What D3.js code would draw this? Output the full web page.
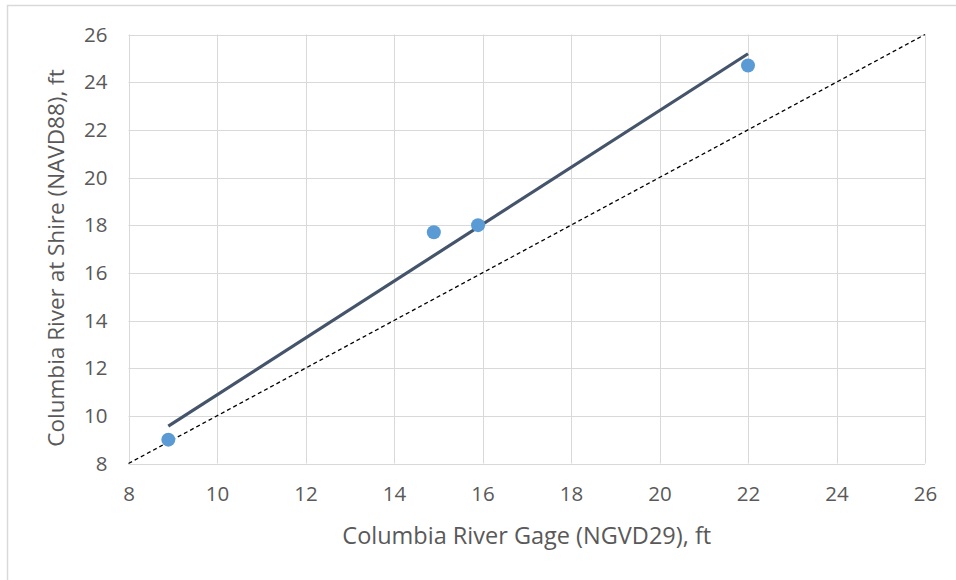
<!DOCTYPE html>
<html>
<head>
<meta charset="utf-8">
<script src="https://cdn.jsdelivr.net/npm/d3@7"></script>
<style>
  html, body { margin: 0; padding: 0; background: #fff; }
  svg { display: block; }
  text { font-family: "Open Sans", sans-serif; fill: #595959; }
</style>
</head>
<body>
<svg id="chart" width="956" height="580"></svg>
<script>
// Data
const gageX = [8.9, 14.9, 15.9, 22.0];          // Columbia River Gage (NGVD29), ft
const shireY = [9.0, 17.7, 18.0, 24.7];         // Columbia River at Shire (NAVD88), ft
const xTicks = [8, 10, 12, 14, 16, 18, 20, 22, 24, 26];
const yTicks = [8, 10, 12, 14, 16, 18, 20, 22, 24, 26];
const oneToOne = [8, 26];
const xTitle = "Columbia River Gage (NGVD29), ft";
const yTitle = "Columbia River at Shire (NAVD88), ft";

const svg = d3.select("#chart");
const W = 956, H = 580;
const m = { left: 128.5, right: W - 925, top: 34.5, bottom: H - 463.5 };

// outer frame
svg.append("rect").attr("x", 7.5).attr("y", 5.5).attr("width", 1000).attr("height", 1000)
  .attr("fill", "#fff").attr("stroke", "#D9D9D9").attr("stroke-width", 1.5);

const x = d3.scaleLinear().domain([8, 26]).range([m.left, W - m.right]);
const y = d3.scaleLinear().domain([8, 26]).range([H - m.bottom, m.top]);

// gridlines
const g = svg.append("g");
g.selectAll(".vg").data(xTicks).join("line")
  .attr("x1", d => Math.round(x(d)) + 0.5).attr("x2", d => Math.round(x(d)) + 0.5)
  .attr("y1", y(26)).attr("y2", y(8))
  .attr("stroke", "#D9D9D9").attr("stroke-width", 1);
g.selectAll(".hg").data(yTicks).join("line")
  .attr("y1", d => Math.round(y(d)) + 0.5).attr("y2", d => Math.round(y(d)) + 0.5)
  .attr("x1", x(8)).attr("x2", x(26))
  .attr("stroke", "#D9D9D9").attr("stroke-width", 1);

// axes (labels only)
const xAxis = svg.append("g").attr("transform", `translate(0,${y(8)})`)
  .call(d3.axisBottom(x).tickValues(xTicks).tickSize(0).tickPadding(23).tickFormat(d3.format("d")));
xAxis.select(".domain").remove();
xAxis.selectAll("text").style("font-size", "20.5px").attr("fill", "#595959");

const yAxis = svg.append("g").attr("transform", `translate(${x(8)},0)`)
  .call(d3.axisLeft(y).tickValues(yTicks).tickSize(0).tickPadding(21).tickFormat(d3.format("d")));
yAxis.select(".domain").remove();
yAxis.selectAll("text").style("font-size", "20.5px").attr("fill", "#595959");

// 1:1 dashed line
svg.append("line")
  .attr("x1", x(oneToOne[0])).attr("y1", y(oneToOne[0]))
  .attr("x2", x(oneToOne[1])).attr("y2", y(oneToOne[1]))
  .attr("stroke", "#000").attr("stroke-width", 1.3).attr("stroke-dasharray", "4,3");

// linear trendline (least squares over the data points)
const pts = gageX.map((v, i) => [v, shireY[i]]);
const mx = d3.mean(gageX), my = d3.mean(shireY);
const slope = d3.sum(pts, p => (p[0] - mx) * (p[1] - my)) / d3.sum(pts, p => (p[0] - mx) ** 2);
const icpt = my - slope * mx;
const xExt = d3.extent(gageX);
svg.append("path")
  .datum(xExt.map(v => [v, icpt + slope * v]))
  .attr("d", d3.line().x(d => x(d[0])).y(d => y(d[1])))
  .attr("stroke", "#44546A").attr("stroke-width", 3.2).attr("fill", "none").attr("stroke-linecap", "butt");

// points
svg.selectAll(".pt").data(pts).join("circle")
  .attr("cx", d => x(d[0])).attr("cy", d => y(d[1])).attr("r", 7)
  .attr("fill", "#5B9BD5");

// titles
svg.append("text").attr("x", (x(8) + x(26)) / 2).attr("y", 544)
  .attr("text-anchor", "middle").style("font-size", "23.5px").text(xTitle);
svg.append("text")
  .attr("transform", `translate(64,258) rotate(-90)`)
  .attr("text-anchor", "middle").style("font-size", "22.5px").text(yTitle);
</script>
</body>
</html>
